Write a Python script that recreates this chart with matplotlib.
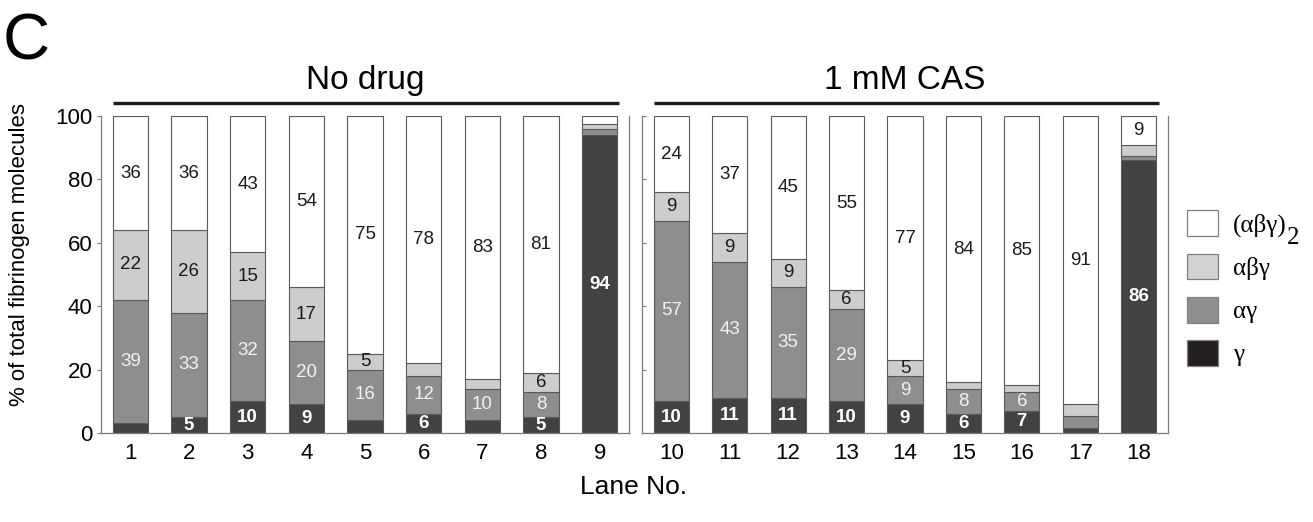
import matplotlib
matplotlib.use('Agg')
import matplotlib.pyplot as plt
from matplotlib.patches import Patch

plt.rcParams['font.family'] = ['Liberation Sans', 'DejaVu Sans']

# lanes 1-9 : no drug, lanes 10-18 : 1 mM CAS
lanes_a = [1, 2, 3, 4, 5, 6, 7, 8, 9]
lanes_b = [10, 11, 12, 13, 14, 15, 16, 17, 18]

# % of molecules per lane (bottom -> top)
gamma = [3, 5, 10, 9, 4, 6, 4, 5, 94, 10, 11, 11, 10, 9, 6, 7, 1.5, 86]
ag = [39, 33, 32, 20, 16, 12, 10, 8, 2, 57, 43, 35, 29, 9, 8, 6, 4, 1.5]
abg = [22, 26, 15, 17, 5, 4, 3, 6, 1.5, 9, 9, 9, 6, 5, 2, 2, 3.5, 3.5]
dimer = [36, 36, 43, 54, 75, 78, 83, 81, 2.5, 24, 37, 45, 55, 77, 84, 85, 91, 9]

# numbers printed inside the segments ('' = no number)
gamma_lbl = ['', '5', '10', '9', '', '6', '', '5', '94',
             '10', '11', '11', '10', '9', '6', '7', '', '86']
ag_lbl = ['39', '33', '32', '20', '16', '12', '10', '8', '',
          '57', '43', '35', '29', '9', '8', '6', '', '']
abg_lbl = ['22', '26', '15', '17', '5', '', '', '6', '',
           '9', '9', '9', '6', '5', '', '', '', '']
dimer_lbl = ['36', '36', '43', '54', '75', '78', '83', '81', '',
             '24', '37', '45', '55', '77', '84', '85', '91', '9']

groups = ['No drug', '1 mM CAS']
legend_names = ['(αβγ)', 'αβγ', 'αγ', 'γ']

c_gamma, c_ag, c_abg, c_dimer = '#424242', '#8e8e8e', '#cdcdcd', 'white'
edge = '#5a5a5a'
spine_c = '#7a7a7a'

W, H = 1313, 522
fig = plt.figure(figsize=(W / 100, H / 100), dpi=100)
ax1 = fig.add_axes([101 / W, 1 - 433 / H, 528 / W, 317 / H])
ax2 = fig.add_axes([642 / W, 1 - 433 / H, 526 / W, 317 / H])

for k, (ax, lanes) in enumerate([(ax1, lanes_a), (ax2, lanes_b)]):
    s = slice(9 * k, 9 * k + 9)
    x = list(range(1, 10))
    g, a, b, d = gamma[s], ag[s], abg[s], dimer[s]
    b1 = [g[i] + a[i] for i in range(9)]
    b2 = [b1[i] + b[i] for i in range(9)]
    kw = dict(width=0.6, edgecolor=edge, linewidth=0.8)
    bars_g = ax.bar(x, g, color=c_gamma, **kw)
    bars_a = ax.bar(x, a, bottom=g, color=c_ag, **kw)
    bars_b = ax.bar(x, b, bottom=b1, color=c_abg, **kw)
    bars_d = ax.bar(x, d, bottom=b2, color=c_dimer, **kw)

    ax.bar_label(bars_g, labels=gamma_lbl[s], label_type='center',
                 color='white', fontsize=13.5, fontweight='bold')
    ax.bar_label(bars_a, labels=ag_lbl[s], label_type='center',
                 color='#f2f2f2', fontsize=13.5)
    ax.bar_label(bars_b, labels=abg_lbl[s], label_type='center',
                 color='#1a1a1a', fontsize=13.5)
    ax.bar_label(bars_d, labels=dimer_lbl[s], label_type='center',
                 color='#1a1a1a', fontsize=13.5)

    ax.set_xlim(0.5, 9.5)
    ax.set_ylim(0, 100)
    ax.set_xticks(x)
    ax.set_xticklabels([str(v) for v in lanes], fontsize=16)
    ax.tick_params(axis='x', length=0, pad=7)
    ax.spines['top'].set_visible(False)
    for sp in ['left', 'right', 'bottom']:
        ax.spines[sp].set_color(spine_c)
        ax.spines[sp].set_linewidth(0.9)
    ax.set_yticks([0, 20, 40, 60, 80, 100])

    # group bar + title
    ax.plot([0.022, 0.982], [1.041, 1.041], transform=ax.transAxes,
            color='#1a1a1a', lw=2.4, clip_on=False, solid_capstyle='butt')
    ax.text(0.5, 1.084, groups[k], transform=ax.transAxes, ha='center',
            va='baseline', fontsize=24)

ax1.tick_params(axis='y', labelsize=16, length=3, color=spine_c, pad=3)
ax2.tick_params(axis='y', direction='in', length=3, color=spine_c,
                labelleft=False)

fig.text(20 / W, 1 - 255 / H, '% of total fibrinogen molecules',
         rotation=90, ha='center', va='center', fontsize=16)
fig.text(634 / W, 1 - 487 / H, 'Lane No.', ha='center', va='center',
         fontsize=19)
fig.text(3 / W, 1 - 12 / H, 'C', ha='left', va='top', fontsize=47)

handles = [Patch(facecolor=c, edgecolor='#808080', linewidth=0.9)
           for c in ['white', '#d0d2d4', '#8c8e90', '#231f20']]
leg = fig.legend(handles, legend_names, loc='upper left',
                 bbox_to_anchor=(1187 / W, 1 - 210 / H), frameon=False,
                 borderpad=0, borderaxespad=0, handlelength=1.24,
                 handleheight=1.2, labelspacing=0.68, handletextpad=0.6,
                 prop={'family': 'Liberation Serif', 'size': 18})

# large, lowered subscript "2" after (αβγ)
fig.canvas.draw()
bb = leg.get_texts()[0].get_window_extent()
fig.text(bb.x1 / W, (bb.y0 - 12) / H, '2', ha='left', va='bottom',
         family='Liberation Serif', fontsize=18)

fig.savefig('out.png', dpi=100)
